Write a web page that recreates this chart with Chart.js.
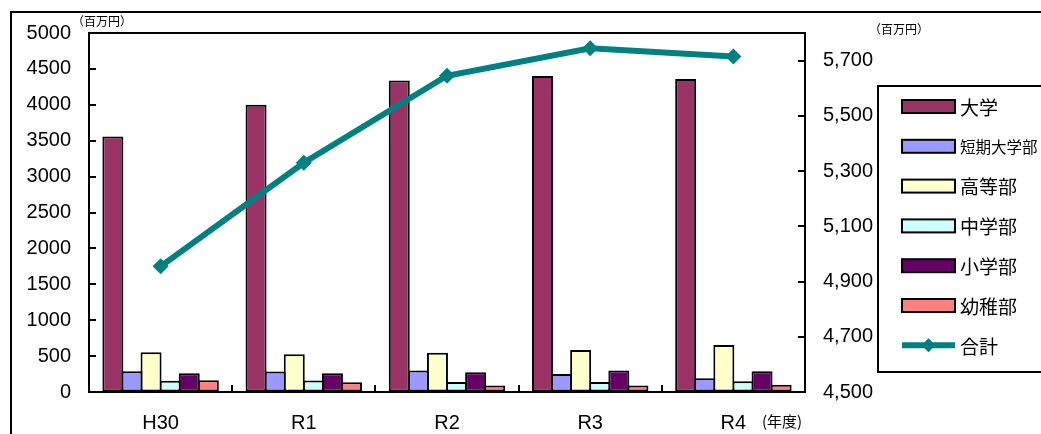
<!DOCTYPE html>
<html>
<head>
<meta charset="utf-8">
<title>学校別 予算推移</title>
<style>
  html, body { margin: 0; padding: 0; background: #ffffff; }
  #wrap { width: 1041px; height: 434px; position: relative; }
  canvas { display: block; }
</style>
<script src="https://cdn.jsdelivr.net/npm/chart.js@4/dist/chart.umd.min.js"></script>
</head>
<body>
<div id="wrap"><canvas id="c" width="1041" height="434"></canvas></div>
<script>
// 年度
const years = ['H30', 'R1', 'R2', 'R3', 'R4'];

// 部門別（百万円、左軸）
const daigaku = [3560, 4000, 4340, 4400, 4360];   // 大学
const tanki   = [290, 285, 300, 250, 190];        // 短期大学部
const koutou  = [555, 525, 545, 585, 655];        // 高等部
const chugaku = [155, 160, 140, 140, 150];        // 中学部
const shogaku = [260, 260, 275, 300, 290];        // 小学部
const youchi  = [165, 135, 90, 90, 100];          // 幼稚部

// 合計（百万円、右軸）
const goukei = [4955, 5330, 5645, 5745, 5715];

// 目盛
const leftTicks  = [0, 500, 1000, 1500, 2000, 2500, 3000, 3500, 4000, 4500, 5000];
const rightTicks = [4500, 4700, 4900, 5100, 5300, 5500, 5700];

const NUM_FONT = '"Liberation Sans", Arial, sans-serif';
const JP_FONT = '"Noto Sans CJK JP", "Noto Sans", sans-serif';

function barSet(label, data, color) {
  return {
    type: 'bar', label, data,
    backgroundColor: color,
    borderColor: '#000000',
    borderWidth: 2,
    borderSkipped: false,
    categoryPercentage: 0.80,
    barPercentage: 1.10,
    yAxisID: 'y',
    order: 1
  };
}

const datasets = [
  barSet('大学', daigaku, '#993366'),
  barSet('短期大学部', tanki, '#9999FF'),
  barSet('高等部', koutou, '#FFFFCC'),
  barSet('中学部', chugaku, '#CCFFFF'),
  barSet('小学部', shogaku, '#660066'),
  barSet('幼稚部', youchi, '#FF8080'),
  {
    type: 'line', label: '合計', data: goukei,
    borderColor: '#008080', backgroundColor: '#008080',
    borderWidth: 6, tension: 0, fill: false,
    pointStyle: 'rectRot', pointRadius: 8, pointHoverRadius: 8,
    pointBackgroundColor: '#008080', pointBorderColor: '#008080', pointBorderWidth: 0,
    yAxisID: 'y1', order: 0
  }
];

// 外枠・上辺・内向き目盛・単位・凡例
const decorPlugin = {
  id: 'decor',
  beforeDraw(chart) {
    const ctx = chart.ctx;
    ctx.save();
    ctx.fillStyle = '#ffffff';
    ctx.fillRect(0, 0, chart.width, chart.height);
    ctx.restore();
  },
  afterDraw(chart) {
    const ctx = chart.ctx;
    const a = chart.chartArea;
    const sx = chart.scales.x, sy = chart.scales.y, sy1 = chart.scales.y1;
    ctx.save();
    ctx.strokeStyle = '#000000';
    ctx.lineWidth = 2;

    // 外枠
    ctx.strokeRect(11, 12, chart.width + 20, chart.height + 20);

    // プロット領域の上辺
    ctx.beginPath();
    ctx.moveTo(a.left - 1, a.top);
    ctx.lineTo(a.right + 1, a.top);
    ctx.stroke();

    // 内向きの目盛線
    const tl = 7;
    ctx.beginPath();
    sy.ticks.forEach(t => {
      const y = Math.round(sy.getPixelForValue(t.value));
      ctx.moveTo(a.left, y); ctx.lineTo(a.left + tl, y);
    });
    sy1.ticks.forEach(t => {
      const y = Math.round(sy1.getPixelForValue(t.value));
      ctx.moveTo(a.right - tl, y); ctx.lineTo(a.right, y);
    });
    const n = years.length;
    for (let i = 1; i < n; i++) {
      const x = Math.round((sx.getPixelForValue(i - 1) + sx.getPixelForValue(i)) / 2);
      ctx.moveTo(x, a.bottom); ctx.lineTo(x, a.bottom - tl);
    }
    ctx.stroke();

    // 単位
    ctx.fillStyle = '#000000';
    ctx.textBaseline = 'middle';
    ctx.textAlign = 'left';
    ctx.font = '12px ' + JP_FONT;
    ctx.fillText('（百万円）', a.left - 17, 21);
    ctx.fillText('（百万円）', a.right + 64, 29);
    ctx.font = '15px ' + JP_FONT;
    ctx.fillText('(年度)', a.right - 43, 421);

    // 凡例
    const lx = a.right + 73, ly = 86, lw = 300, lh = 286;
    ctx.strokeRect(lx, ly, lw, lh);
    const rowTop = 106.5, rowStep = 39.8;
    chart.data.datasets.forEach((ds, i) => {
      const cy = rowTop + i * rowStep;
      const x0 = lx + 24, x1 = lx + 77;
      if (ds.type === 'line') {
        ctx.strokeStyle = ds.borderColor;
        ctx.lineWidth = ds.borderWidth;
        ctx.beginPath();
        ctx.moveTo(x0, cy); ctx.lineTo(x1, cy);
        ctx.stroke();
        const mx = (x0 + x1) / 2, r = 7;
        ctx.fillStyle = ds.pointBackgroundColor;
        ctx.beginPath();
        ctx.moveTo(mx, cy - r); ctx.lineTo(mx + r, cy); ctx.lineTo(mx, cy + r); ctx.lineTo(mx - r, cy);
        ctx.closePath();
        ctx.fill();
      } else {
        ctx.fillStyle = ds.backgroundColor;
        ctx.fillRect(x0, cy - 6.5, x1 - x0, 13);
        ctx.strokeStyle = '#000000';
        ctx.lineWidth = 2;
        ctx.strokeRect(x0, cy - 6.5, x1 - x0, 13);
      }
      ctx.fillStyle = '#000000';
      ctx.textAlign = 'left';
      ctx.textBaseline = 'middle';
      ctx.font = (ds.label.length > 3 ? '15.5px ' : '19px ') + JP_FONT;
      ctx.fillText(ds.label, x1 + 5, cy + 1);
    });
    ctx.restore();
  }
};

new Chart(document.getElementById('c'), {
  data: { labels: years, datasets },
  options: {
    responsive: false,
    animation: false,
    devicePixelRatio: 1,
    layout: { padding: { top: 33, left: 0, right: 0, bottom: 0 } },
    plugins: {
      legend: { display: false },
      tooltip: { enabled: false },
      title: { display: false }
    },
    scales: {
      x: {
        type: 'category',
        offset: true,
        grid: { display: false, drawTicks: false },
        border: { display: true, color: '#000000', width: 2 },
        ticks: { color: '#000000', font: { family: NUM_FONT, size: 20 }, padding: 19, maxRotation: 0 },
        afterFit(scale) { scale.height = 42; }
      },
      y: {
        type: 'linear', position: 'left',
        min: 0, max: 5000,
        grid: { display: true, drawOnChartArea: false, drawTicks: false },
        border: { display: true, color: '#000000', width: 2 },
        ticks: {
          color: '#000000', font: { family: NUM_FONT, size: 20 }, padding: 18,
          callback: v => String(v)
        },
        afterBuildTicks(scale) { scale.ticks = leftTicks.map(v => ({ value: v })); },
        afterFit(scale) { scale.width = 89; }
      },
      y1: {
        type: 'linear', position: 'right',
        min: 4500, max: 5800,
        grid: { display: true, drawOnChartArea: false, drawTicks: false },
        border: { display: true, color: '#000000', width: 2 },
        ticks: {
          color: '#000000', font: { family: NUM_FONT, size: 20 }, padding: 18,
          callback: v => Number(v).toLocaleString('en-US')
        },
        afterBuildTicks(scale) { scale.ticks = rightTicks.map(v => ({ value: v })); },
        afterFit(scale) { scale.width = 236; }
      }
    }
  },
  plugins: [decorPlugin]
});
</script>
</body>
</html>
